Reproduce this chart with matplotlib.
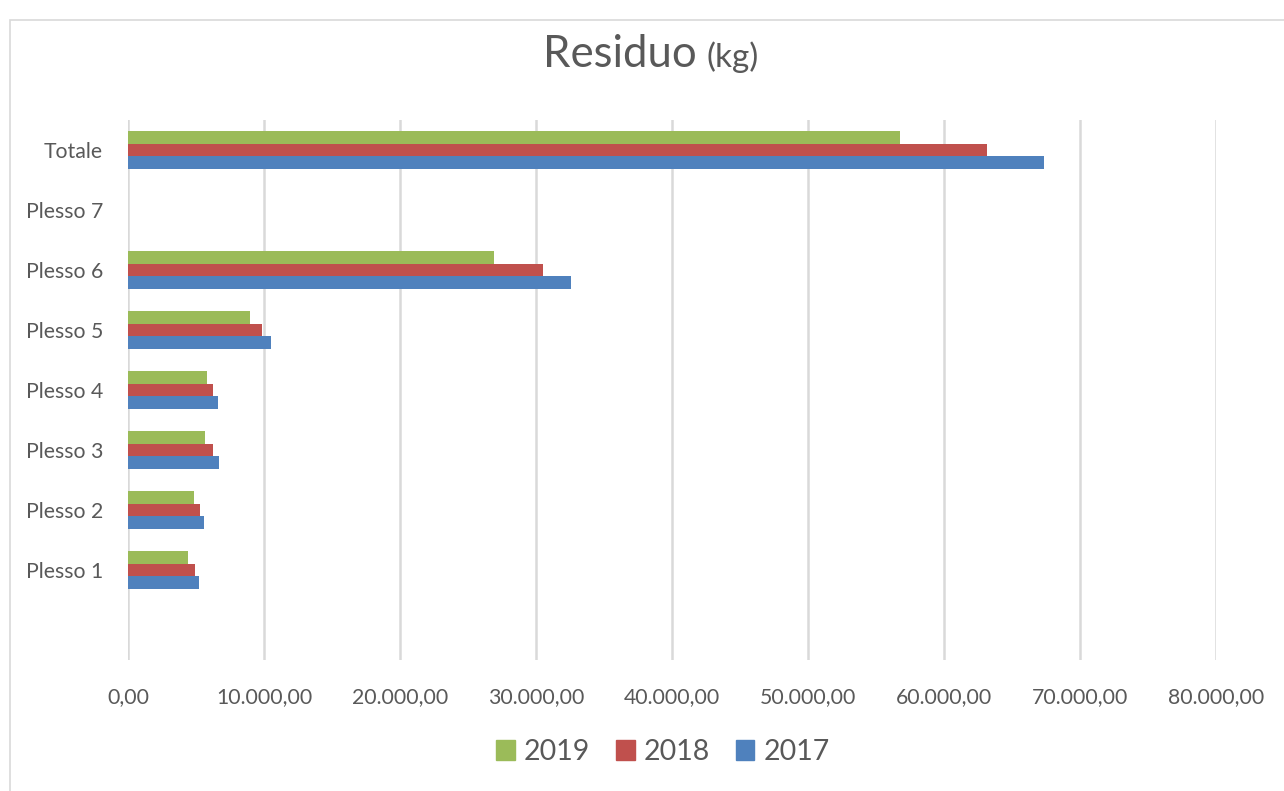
import numpy as np
import matplotlib.pyplot as plt
from matplotlib.patches import Rectangle, Patch

plt.rcParams['font.family'] = ['Lato', 'DejaVu Sans']

# data
categories = ['', 'Plesso 1', 'Plesso 2', 'Plesso 3', 'Plesso 4',
              'Plesso 5', 'Plesso 6', 'Plesso 7', 'Totale']
v2017 = [np.nan, 5240, 5570, 6710, 6640, 10510, 32540, np.nan, 67350]
v2018 = [np.nan, 4930, 5270, 6230, 6230, 9850, 30550, np.nan, 63160]
v2019 = [np.nan, 4390, 4880, 5640, 5830, 8970, 26900, np.nan, 56800]
years = ['2019', '2018', '2017']
colors = {'2017': '#4f81bd', '2018': '#c0504d', '2019': '#9bbb59'}
ticks = np.arange(0, 80001, 10000)

grey = '#595959'

fig = plt.figure(figsize=(12.84, 7.91), dpi=100)
# chart border
fig.patches.append(Rectangle((10/1284, -0.01), 1.0, (791-20)/791 + 0.01,
                             transform=fig.transFigure, fill=False,
                             edgecolor='#d9d9d9', linewidth=1.2))

ax = fig.add_axes([128/1284, (791-660)/791, (1216-128)/1284, 540/791])

y = np.arange(len(categories))
h = 0.208
ax.barh(y - h, v2017, height=h, color=colors['2017'], label='2017', zorder=3)
ax.barh(y, v2018, height=h, color=colors['2018'], label='2018', zorder=3)
ax.barh(y + h, v2019, height=h, color=colors['2019'], label='2019', zorder=3)

ax.set_xlim(0, 80000)
ax.set_ylim(-0.5, len(categories) - 0.5)
ax.set_yticks(y)
ax.set_yticklabels(categories)
ax.set_xticks(ticks)
ax.set_xticklabels([f'{t:,.2f}'.replace(',', 'X').replace('.', ',').replace('X', '.')
                    for t in ticks])
ax.tick_params(axis='both', length=0, labelsize=15.3, colors=grey)
ax.tick_params(axis='x', pad=19.5)
ax.tick_params(axis='y', pad=18)
ax.grid(axis='x', color='#d9d9d9', linewidth=1.8, zorder=0)
for s in ax.spines.values():
    s.set_visible(False)

# title
fig.text(543/1284, 1 - 67/791, 'Residuo', fontsize=31.5, color=grey,
         ha='left', va='baseline')
fig.text(706/1284, 1 - 67/791, '(kg)', fontsize=24, color=grey,
         ha='left', va='baseline')

handles = [Patch(color=colors[yr], label=yr) for yr in years]
fig.legend(handles=handles, loc='center', bbox_to_anchor=(663/1284, 1 - 752/791),
           ncol=3, frameon=False, fontsize=20.5, labelcolor=grey,
           handlelength=0.66, handleheight=0.66, handletextpad=0.32,
           columnspacing=0.9)

fig.savefig('out.png', dpi=100)
